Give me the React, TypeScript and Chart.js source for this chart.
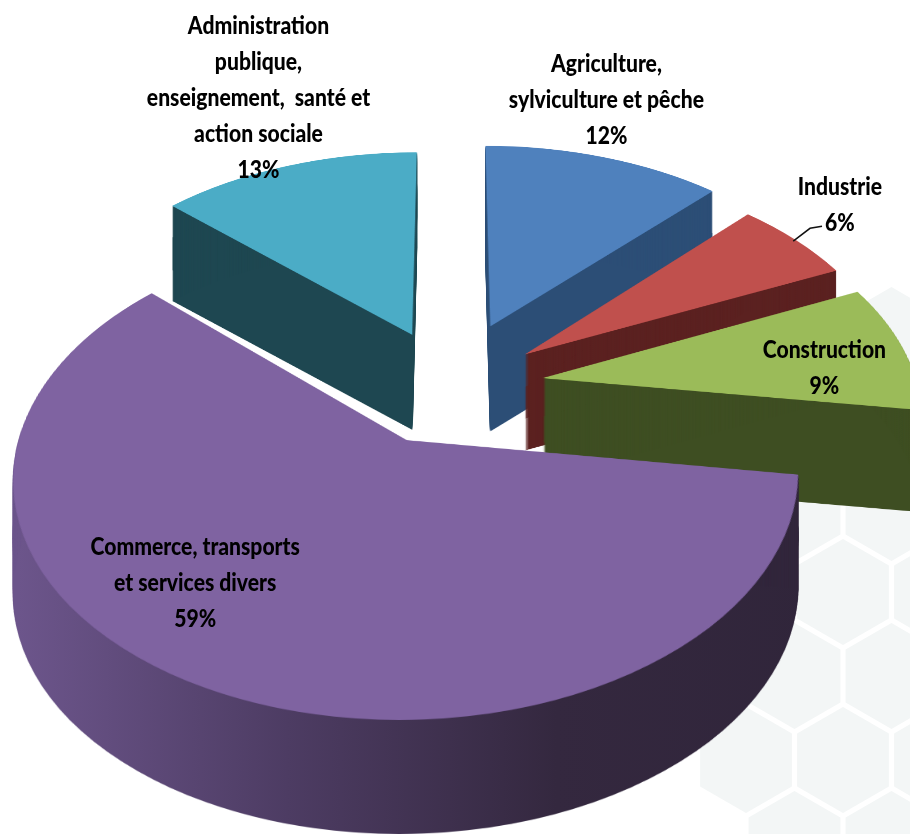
import React, { useEffect, useRef } from 'react';
import { Chart, PieController, ArcElement } from 'chart.js';

Chart.register(PieController, ArcElement);

// ---------------- data ----------------
const categories = [
  'Agriculture, sylviculture et pêche',
  'Industrie',
  'Construction',
  'Commerce, transports et services divers',
  'Administration publique, enseignement, santé et action sociale',
];
const labelLines = [
  ['Agriculture,', 'sylviculture et pêche'],
  ['Industrie'],
  ['Construction'],
  ['Commerce, transports', 'et services divers'],
  ['Administration', 'publique,', 'enseignement,  santé et', 'action sociale'],
];
const shares = [12, 6, 9, 59, 13];
const percentLabels = ['12%', '6%', '9%', '59%', '13%'];

// ---------------- style ----------------
const topColors = ['#4f81bd', '#c0504d', '#9bbb59', '#7f63a1', '#4bacc6'];
const sideColors: any[] = [
  '#2c4e76',
  '#5b2120',
  '#3e4e22',
  ['#6c558b', '#4d3c63', '#34283f', '#30253a'],
  '#1e4751',
];
const explode = [0.3, 0.25, 0.25, 0.26, 0.26]; // fraction of radius
const depth = [105, 96, 102, 114, 95]; // wall height in px
const labelR = [1.35, 1.15, 0.78, 0.7, 1.3];
const labelNudge = [
  [-32, -7],
  [7, -19],
  [0, 14],
  [-78, -23],
  [3, -24],
];
const LINE_H = 36;
const FONT = '900 24px Lato, "Open Sans", Roboto, sans-serif';
const TEXT_SX = 0.88;

// perspective camera
const PROJ = { X0: 450, Y0: 386, S: 375, T: 222.4, P: 0.144 };

function project(un: number, vn: number) {
  const w = 1 - PROJ.P * vn;
  return [PROJ.X0 + (PROJ.S * un) / w, PROJ.Y0 + (PROJ.T * vn) / w];
}

function makeCanvas(w: number, h: number) {
  const c = document.createElement('canvas');
  c.width = w;
  c.height = h;
  return c;
}

function midOf(a: any) {
  return (a.startAngle + a.endAngle) / 2;
}

function warp(dst: CanvasRenderingContext2D, src: HTMLCanvasElement, c: number, R: number) {
  const W = src.width;
  const H = src.height;
  const { X0, Y0, S, T, P } = PROJ;
  const Yof = (vn: number) => Y0 + (T * vn) / (1 - P * vn);
  const vOf = (Y: number) => (Y - Y0) / (T + P * (Y - Y0));
  const yA = Math.max(0, Math.floor(Yof(-c / R)));
  const yB = Math.min(dst.canvas.height, Math.ceil(Yof((H - c) / R)));
  for (let yd = yA; yd < yB; yd++) {
    const va = vOf(yd);
    const vb = vOf(yd + 1);
    let sa = c + va * R;
    let sb = c + vb * R;
    if (sb <= 0 || sa >= H) continue;
    sa = Math.max(0, sa);
    sb = Math.min(H, sb);
    if (sb - sa <= 0) continue;
    const k = S / (R * (1 - (P * (va + vb)) / 2));
    dst.drawImage(src, 0, sa, W, sb - sa, X0 - k * c, yd, W * k, 1);
  }
}

function extrude(dst: CanvasRenderingContext2D, proj: HTMLCanvasElement, side: any, D: number) {
  const w = proj.width;
  const h = proj.height;
  let cur = makeCanvas(w, h);
  let other = makeCanvas(w, h);
  const cctx = cur.getContext('2d') as CanvasRenderingContext2D;
  cctx.drawImage(proj, 0, 0);
  cctx.globalCompositeOperation = 'source-in';
  if (Array.isArray(side)) {
    const g = cctx.createLinearGradient(PROJ.X0 - PROJ.S * 1.15, 0, PROJ.X0 + PROJ.S, 0);
    side.forEach((col: string, i: number) => g.addColorStop(i / (side.length - 1), col));
    cctx.fillStyle = g;
  } else {
    cctx.fillStyle = side;
  }
  cctx.fillRect(0, 0, w, h);
  cctx.globalCompositeOperation = 'source-over';
  let n = 1;
  while (n * 2 <= D) {
    const o = other.getContext('2d') as CanvasRenderingContext2D;
    o.clearRect(0, 0, w, h);
    o.drawImage(cur, 0, 0);
    o.drawImage(cur, 0, n);
    const t = cur;
    cur = other;
    other = t;
    n *= 2;
  }
  if (n < D) {
    const o = other.getContext('2d') as CanvasRenderingContext2D;
    o.clearRect(0, 0, w, h);
    o.drawImage(cur, 0, 0);
    o.drawImage(cur, 0, D - n);
    cur = other;
  }
  dst.drawImage(cur, 0, 1);
}

function drawHexes(ctx: CanvasRenderingContext2D) {
  const r = 56;
  const w = Math.sqrt(3) * r;
  ctx.save();
  ctx.fillStyle = '#f3f6f6';
  for (let row = -3; row <= 3; row++) {
    const cy = 592 + row * 1.5 * r;
    const xo = Math.abs(row) % 2 === 0 ? 843 : 843 - w / 2;
    for (let k = -2; k <= 2; k++) {
      const cx = xo + k * w;
      if (!(cx >= 790 || (cy >= 700 && cx >= 740))) continue;
      ctx.beginPath();
      for (let s = 0; s < 6; s++) {
        const ang = -Math.PI / 2 + (s * Math.PI) / 3;
        const px = cx + Math.cos(ang) * (r - 3);
        const py = cy + Math.sin(ang) * (r - 3);
        if (s === 0) ctx.moveTo(px, py);
        else ctx.lineTo(px, py);
      }
      ctx.closePath();
      ctx.fill();
    }
  }
  ctx.restore();
}

const pie3d = {
  id: 'pie3d',
  beforeDraw(chart: any) {
    const ctx = chart.ctx as CanvasRenderingContext2D;
    ctx.save();
    ctx.fillStyle = '#ffffff';
    ctx.fillRect(0, 0, chart.width, chart.height);
    ctx.restore();
    drawHexes(ctx);
  },
  beforeDatasetsDraw(chart: any) {
    const ctx = chart.ctx as CanvasRenderingContext2D;
    const W = chart.width;
    const H = chart.height;
    const arcs = chart.getDatasetMeta(0).data as any[];
    if (!arcs.length) return false;
    const R = arcs[0].outerRadius;
    const size = Math.ceil(2 * R * (1 + Math.max(...explode))) + 8;
    const c = size / 2;
    const src = makeCanvas(size, size);
    const sctx = src.getContext('2d') as CanvasRenderingContext2D;
    const proj = makeCanvas(W, H);
    const pctx = proj.getContext('2d') as CanvasRenderingContext2D;
    const order = arcs
      .map((_, i) => i)
      .sort((i, j) => Math.sin(midOf(arcs[i])) - Math.sin(midOf(arcs[j])));
    for (const i of order) {
      const a = arcs[i];
      const mid = midOf(a);
      sctx.clearRect(0, 0, size, size);
      sctx.save();
      sctx.translate(c - a.x + Math.cos(mid) * explode[i] * R, c - a.y + Math.sin(mid) * explode[i] * R);
      a.draw(sctx);
      sctx.restore();
      pctx.clearRect(0, 0, W, H);
      warp(pctx, src, c, R);
      extrude(ctx, proj, sideColors[i], depth[i]);
      ctx.drawImage(proj, 0, 0);
    }
    return false;
  },
  afterDraw(chart: any) {
    const ctx = chart.ctx as CanvasRenderingContext2D;
    const arcs = chart.getDatasetMeta(0).data as any[];
    ctx.save();
    ctx.font = FONT;
    ctx.fillStyle = '#000000';
    ctx.textAlign = 'center';
    ctx.textBaseline = 'middle';
    arcs.forEach((a, i) => {
      const mid = midOf(a);
      const rr = labelR[i] + explode[i];
      const [px, py] = project(Math.cos(mid) * rr, Math.sin(mid) * rr);
      const cx = px + labelNudge[i][0];
      const cy = py + labelNudge[i][1];
      const lines = [...labelLines[i], percentLabels[i]];
      lines.forEach((ln, j) => {
        const yy = cy + (j - (lines.length - 1) / 2) * LINE_H;
        ctx.save();
        ctx.translate(cx, yy);
        ctx.scale(TEXT_SX, 1);
        ctx.fillText(ln, 0, 0);
        ctx.restore();
      });
      if (i === 1) {
        // leader line for the small slice
        const last = cy + ((lines.length - 1) / 2) * LINE_H;
        const tw = ctx.measureText(percentLabels[i]).width * TEXT_SX;
        const sx = cx - tw / 2 - 3;
        const re = 0.99 + explode[i];
        const [ex, ey] = project(Math.cos(mid) * re, Math.sin(mid) * re);
        ctx.strokeStyle = '#111';
        ctx.lineWidth = 1.5;
        ctx.beginPath();
        ctx.moveTo(sx, last + 3);
        ctx.lineTo(sx - 12, last + 5);
        ctx.lineTo(ex, ey);
        ctx.stroke();
      }
    });
    ctx.restore();
  },
};

export default function App() {
  const ref = useRef<HTMLCanvasElement | null>(null);
  useEffect(() => {
    document.body.style.margin = '0';
    const canvas = ref.current;
    if (!canvas) return;
    const chart = new Chart(canvas, {
      type: 'pie',
      data: {
        labels: categories,
        datasets: [
          {
            data: shares,
            backgroundColor: topColors,
            borderWidth: 0,
          },
        ],
      },
      options: {
        responsive: false,
        animation: false,
        devicePixelRatio: 1,
        events: [],
        radius: 400,
        layout: { padding: 0 },
        plugins: { legend: { display: false }, tooltip: { enabled: false } },
      } as any,
      plugins: [pie3d as any],
    });
    return () => chart.destroy();
  }, []);
  return <canvas ref={ref} width={910} height={834} style={{ display: 'block' }} />;
}
